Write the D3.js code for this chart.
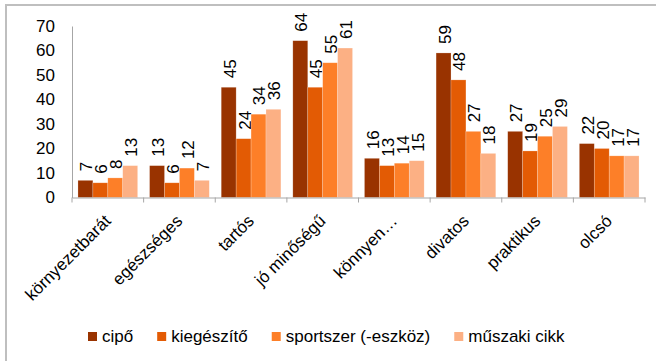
<!DOCTYPE html>
<html>
<head>
<meta charset="utf-8">
<script src="https://cdn.jsdelivr.net/npm/d3@7"></script>
<style>
  body { margin: 0; background: #fff; }
  svg { display: block; font-family: "Liberation Sans", Arial, sans-serif; }
</style>
</head>
<body>
<svg id="chart" width="656" height="361"></svg>
<script>
const categories = ['környezetbarát', 'egészséges', 'tartós', 'jó minőségű', 'könnyen…', 'divatos', 'praktikus', 'olcsó']
const seriesNames = ['cipő', 'kiegészítő', 'sportszer (-eszköz)', 'műszaki cikk']
const cipo = [7, 13, 45, 64, 16, 59, 27, 22]
const kiegeszito = [6, 6, 24, 45, 13, 48, 19, 20]
const sportszer = [8, 12, 34, 55, 14, 27, 25, 17]
const muszaki = [13, 7, 36, 61, 15, 18, 29, 17]
const yTicks = [0, 10, 20, 30, 40, 50, 60, 70]
const colors = ['#993300', '#e35b04', '#fd7f28', '#fcb084']

const seriesValues = [cipo, kiegeszito, sportszer, muszaki]

const svg = d3.select('#chart')
const width = 656
const height = 361

// outer frame (cropped on right/bottom in the original)
svg.append('rect')
    .attr('x', 6)
    .attr('y', 5)
    .attr('width', width + 20)
    .attr('height', height + 20)
    .attr('fill', 'none')
    .attr('stroke', '#bfbfbf')
    .attr('stroke-width', 2)

const margin = { left: 72, right: 11, top: 26, bottom: 197.5 }

const x = d3.scaleBand()
    .domain(categories)
    .range([margin.left, width - margin.right])

const inner = d3.scaleBand()
    .domain(seriesNames)
    .range([0, x.bandwidth()])
    .paddingOuter(0.4)

const y = d3.scaleLinear()
    .domain([0, 70])
    .range([margin.bottom, margin.top])

// y axis
const yAxis = svg.append('g')
    .attr('transform', `translate(${margin.left},0)`)
    .call(d3.axisLeft(y).tickValues(yTicks).tickSize(0).tickPadding(17))
yAxis.select('.domain').attr('stroke', '#a6a6a6')
yAxis.selectAll('text')
    .attr('font-size', 17)
    .attr('fill', '#000')
    .attr('font-family', '"Liberation Sans", Arial, sans-serif')

// bars
const groups = svg.append('g')
    .selectAll('g')
    .data(seriesNames)
    .join('g')
    .attr('fill', (d, i) => colors[i])

groups.selectAll('rect')
    .data((s, i) => seriesValues[i].map((v, j) => ({ s, v, c: categories[j] })))
    .join('rect')
    .attr('x', d => x(d.c) + inner(d.s))
    .attr('y', d => y(d.v))
    .attr('width', inner.bandwidth())
    .attr('height', d => y(0) - y(d.v))
    .attr('stroke', '#fff')
    .attr('stroke-opacity', 0.35)
    .attr('stroke-width', 0.6)

// value labels
groups.selectAll('text')
    .data((s, i) => seriesValues[i].map((v, j) => ({ s, v, c: categories[j] })))
    .join('text')
    .attr('transform', d => `translate(${x(d.c) + inner(d.s) + inner.bandwidth() / 2 + 1},${y(d.v) - 9}) rotate(-90)`)
    .attr('dy', '0.35em')
    .attr('font-size', 17)
    .attr('fill', '#000')
    .text(d => d.v)

// x axis
const xAxis = svg.append('g')
    .attr('transform', `translate(0,${margin.bottom})`)
    .call(d3.axisBottom(x).tickSize(0).tickFormat(''))
xAxis.select('.domain').attr('stroke', '#a6a6a6')

// tick marks at category boundaries
const boundaries = categories.map(c => x(c)).concat([x.range()[1]])
xAxis.selectAll('.boundary')
    .data(boundaries)
    .join('line')
    .attr('class', 'boundary')
    .attr('x1', d => d)
    .attr('x2', d => d)
    .attr('y1', 0)
    .attr('y2', 5)
    .attr('stroke', '#a6a6a6')

// rotated category labels
svg.append('g')
    .selectAll('text')
    .data(categories)
    .join('text')
    .attr('transform', d => `translate(${x(d) + x.bandwidth() / 2 + 4},222) rotate(-45)`)
    .attr('text-anchor', 'end')
    .attr('font-size', 17)
    .attr('fill', '#000')
    .text(d => d)

// legend
const legend = svg.append('g').attr('transform', 'translate(88,0)')
let lx = 0
seriesNames.forEach((name, i) => {
    const item = legend.append('g').attr('transform', `translate(${lx},0)`)
    item.append('rect')
        .attr('x', 0)
        .attr('y', 332)
        .attr('width', 9)
        .attr('height', 9)
        .attr('fill', colors[i])
    const t = item.append('text')
        .attr('x', 14)
        .attr('y', 342)
        .attr('font-size', 17)
        .attr('fill', '#000')
        .text(name)
    lx += 14 + t.node().getComputedTextLength() + 24
})
</script>
</body>
</html>
